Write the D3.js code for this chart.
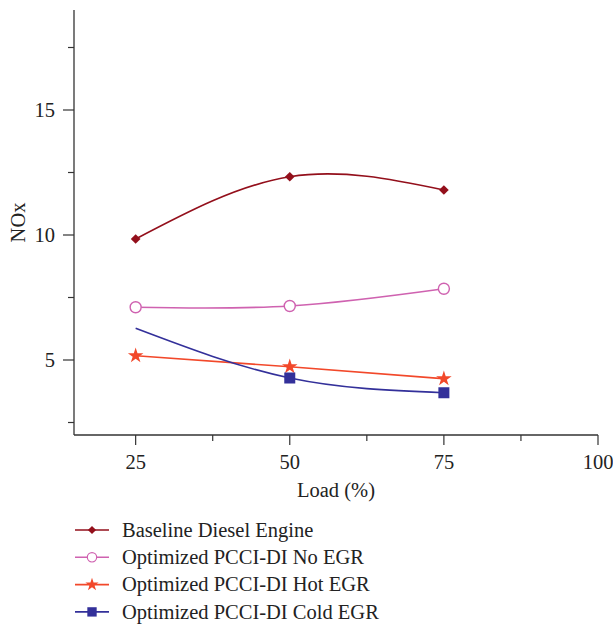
<!DOCTYPE html>
<html>
<head>
<meta charset="utf-8">
<script src="https://cdn.jsdelivr.net/npm/d3@7"></script>
<style>
  body { margin: 0; background: #fff; }
  text { font-family: "Liberation Serif", "Times New Roman", serif; fill: #222; }
</style>
</head>
<body>
<script>
// chart data
const loads = [25, 50, 75];
const baseline = [9.84, 12.33, 11.8];
const noEgr = [7.11, 7.16, 7.85];
const hotEgr = [5.17, 4.73, 4.25];
const coldEgr = [6.27, 4.28, 3.69];
const coldMarked = [false, true, true];   // first cold point has no marker in the original

const xTicks = [25, 50, 75, 100];
const xMinor = [37.5, 62.5, 87.5];
const yTicks = [5, 10, 15];
const yMinor = [2.5, 7.5, 12.5, 17.5];

const seriesNames = ["Baseline Diesel Engine", "Optimized PCCI-DI No EGR",
                     "Optimized PCCI-DI Hot EGR", "Optimized PCCI-DI Cold EGR"];

const width = 613, height = 624;
const plotL = 74, plotR = 598, plotT = 10, plotB = 435;
const fs = 20.5;

let svg = d3.select("body").append("svg")
    .attr("width", width)
    .attr("height", height);

let x = d3.scaleLinear().domain([15, 100]).range([plotL, plotR]);
let y = d3.scaleLinear().domain([2, 19]).range([plotB, plotT]);

// axes
svg.append("line")
    .attr("x1", plotL).attr("x2", plotR)
    .attr("y1", plotB).attr("y2", plotB)
    .attr("stroke", "#333").attr("stroke-width", 1.3);
svg.append("line")
    .attr("x1", plotL).attr("x2", plotL)
    .attr("y1", plotT).attr("y2", plotB)
    .attr("stroke", "#333").attr("stroke-width", 1.3);

svg.selectAll(".xt").data(xTicks).enter().append("line")
    .attr("x1", d => x(d)).attr("x2", d => x(d))
    .attr("y1", plotB).attr("y2", plotB + 10)
    .attr("stroke", "#333").attr("stroke-width", 1.2);
svg.selectAll(".xm").data(xMinor).enter().append("line")
    .attr("x1", d => x(d)).attr("x2", d => x(d))
    .attr("y1", plotB).attr("y2", plotB + 6)
    .attr("stroke", "#333").attr("stroke-width", 1.2);
svg.selectAll(".xl").data(xTicks).enter().append("text")
    .attr("x", d => x(d)).attr("y", plotB + 34)
    .attr("text-anchor", "middle")
    .attr("font-size", fs)
    .text(d => d);

svg.selectAll(".yt").data(yTicks).enter().append("line")
    .attr("x1", plotL - 11).attr("x2", plotL)
    .attr("y1", d => y(d)).attr("y2", d => y(d))
    .attr("stroke", "#333").attr("stroke-width", 1.2);
svg.selectAll(".ym").data(yMinor).enter().append("line")
    .attr("x1", plotL - 6).attr("x2", plotL)
    .attr("y1", d => y(d)).attr("y2", d => y(d))
    .attr("stroke", "#333").attr("stroke-width", 1.2);
svg.selectAll(".yl").data(yTicks).enter().append("text")
    .attr("x", plotL - 19).attr("y", d => y(d))
    .attr("dy", "0.35em")
    .attr("text-anchor", "end")
    .attr("font-size", fs)
    .text(d => d);

svg.append("text")
    .attr("x", x(57.5)).attr("y", 497)
    .attr("text-anchor", "middle")
    .attr("font-size", fs)
    .text("Load (%)");
svg.append("text")
    .attr("transform", `translate(25,${y(10.5)}) rotate(-90)`)
    .attr("text-anchor", "middle")
    .attr("font-size", fs)
    .text("NOx");

// markers
const markers = [
  g => g.append("path").attr("d", d3.symbol().type(d3.symbolDiamond2).size(60)),
  g => g.append("circle").attr("r", 5.5).attr("fill", "#fff").attr("stroke-width", 1.4),
  g => g.append("path").attr("d", d3.symbol().type(d3.symbolStar).size(75)),
  g => g.append("rect").attr("x", -5.5).attr("y", -5.5).attr("width", 11).attr("height", 11)
];
const colors = ["#930f1b", "#cf62b0", "#f2482a", "#33309a"];
const allSeries = [baseline, noEgr, hotEgr, coldEgr];
const shown = [[true, true, true], [true, true, true], [true, true, true], coldMarked];

let line = d3.line()
    .x((d, i) => x(loads[i]))
    .y(d => y(d))
    .curve(d3.curveNatural);

allSeries.forEach((vals, s) => {
  svg.append("path")
      .datum(vals)
      .attr("d", line)
      .attr("fill", "none")
      .attr("stroke", colors[s])
      .attr("stroke-width", 1.6);
  vals.forEach((v, i) => {
    if (!shown[s][i]) return;
    let g = svg.append("g")
        .attr("transform", `translate(${x(loads[i])},${y(v)})`)
        .attr("fill", colors[s])
        .attr("stroke", colors[s]);
    let m = markers[s](g);
    if (s != 1) m.attr("stroke", "none");
  });
});

// legend
let legend = svg.append("g").attr("id", "legend");
seriesNames.forEach((name, s) => {
  let ly = 530 + s * 27.3;
  legend.append("line")
      .attr("x1", 75).attr("x2", 109)
      .attr("y1", ly).attr("y2", ly)
      .attr("stroke", colors[s]).attr("stroke-width", 1.6);
  let g = legend.append("g")
      .attr("transform", `translate(92,${ly}) scale(0.85)`)
      .attr("fill", colors[s])
      .attr("stroke", colors[s]);
  let m = markers[s](g);
  if (s != 1) m.attr("stroke", "none");
  legend.append("text")
      .attr("x", 122).attr("y", ly)
      .attr("dy", "0.33em")
      .attr("font-size", fs)
      .text(name);
});
</script>
</body>
</html>
